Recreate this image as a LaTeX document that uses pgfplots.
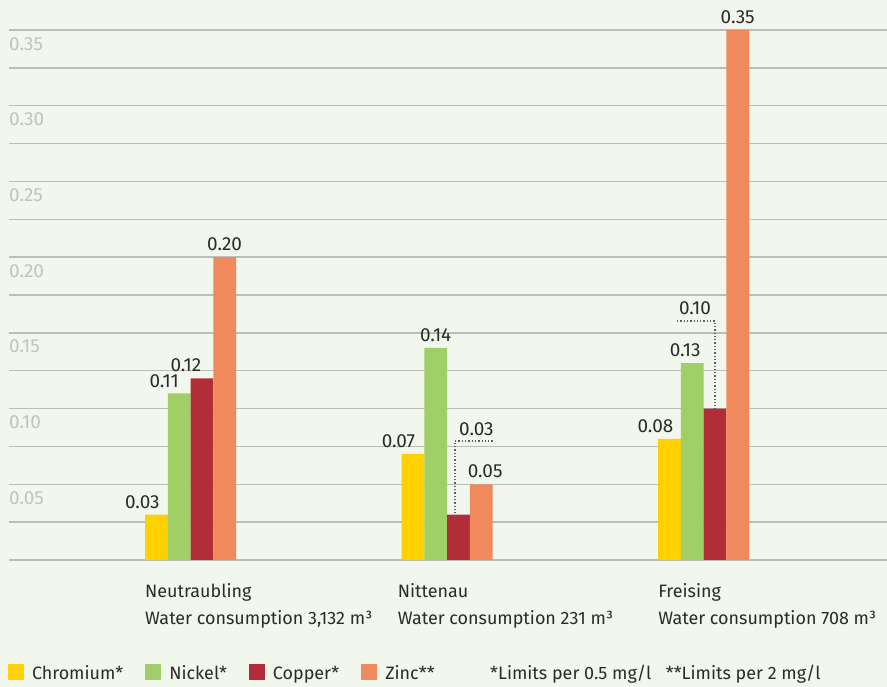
\documentclass[border=0pt]{standalone}
\usepackage{fontspec}
\setmainfont{Fira Sans}
\usepackage{pgfplots}
\pgfplotsset{compat=1.18}
\usepackage{pgfplotstable}
\definecolor{bg}{HTML}{F2F7ED}
\definecolor{gridc}{HTML}{BCBDB6}
\definecolor{ticklab}{HTML}{C2C3BD}
\definecolor{txt}{HTML}{2A2A2A}
\definecolor{cr}{HTML}{FFD100}
\definecolor{ni}{HTML}{A0CF67}
\definecolor{cu}{HTML}{B12E38}
\definecolor{zn}{HTML}{F08A5D}
\definecolor{lead}{HTML}{5A5F66}
\newcommand{\txtfont}{\fontsize{18}{27}\selectfont}
\newcommand{\numfont}{\fontsize{19}{22}\selectfont}

\pgfplotstableread{
x y dx dy
0 0.03 -14 6
1 0.07 -14.5 6
2 0.08 -14 6
}\chromium
\pgfplotstableread{
x y dx dy
0 0.11 -15 6
1 0.14 0 6
2 0.13 -7 6
}\nickel
\pgfplotstableread{
x y dx dy
0 0.12 -16 6
1 0.03 18 79
2 0.10 -20 94
}\copper
\pgfplotstableread{
x y dx dy
0 0.20 0 6
1 0.05 4 6
2 0.35 0 6
}\zinc

\pgfplotsset{
  valstyle/.style={
    draw=none, fill=#1,
    point meta=y,
    nodes near coords={\pgfmathprintnumber[fixed,fixed zerofill,precision=2]{\pgfplotspointmeta}},
    visualization depends on={\thisrow{dx}\as\dx},
    visualization depends on={\thisrow{dy}\as\dy},
    every node near coord/.append style={anchor=south, inner sep=0pt, xshift={\dx*1bp}, yshift={\dy*1bp},
      font=\numfont, text=txt},
  }
}

\begin{document}
\begin{tikzpicture}
\fill[bg] (0,0) rectangle (887bp,687bp);
\begin{axis}[
  at={(9bp,127bp)}, anchor=south west,
  scale only axis, width=878bp, height=530bp,
  xmin=-0.7076, xmax=2.715, ymin=0, ymax=0.35,
  ybar=0pt, bar width=22.75bp,
  axis line style={draw=none},
  major tick length=0pt, minor tick length=0pt,
  /pgf/number format/assume math mode=true,
  ytick={0.05,0.10,0.15,0.20,0.25,0.30,0.35},
  yticklabels={0.05,0.10,0.15,0.20,0.25,0.30,0.35},
  minor ytick={0,0.025,0.075,0.125,0.175,0.225,0.275,0.325},
  ymajorgrids, yminorgrids,
  major grid style={draw=gridc, line width=1.3bp},
  minor grid style={draw=gridc, line width=1.3bp},
  yticklabel style={anchor=north west, inner sep=0pt, yshift=-7bp,
    font=\numfont, text=ticklab},
  xtick={0,1,2},
  xticklabels={{Neutraubling\\Water consumption 3,132 m³},{\hspace*{-4bp}Nittenau\\\hspace*{-4bp}Water consumption 231 m³},{Freising\\Water consumption 708 m³}},
  xticklabel style={anchor=north west, align=left, inner sep=0pt, xshift=-45.5bp, yshift=-23.5bp,
    font=\txtfont, text=txt},
  legend style={at={(0,0)}, anchor=north west, xshift=-1bp, yshift=-104bp,
    draw=none, fill=none, inner sep=0pt, outer sep=0pt,
    font=\txtfont, text=txt,
    nodes={inner sep=0pt, text height=14bp, text depth=4bp},
    /tikz/every odd column/.append style={column sep=8bp},
    /tikz/every even column/.append style={column sep=22bp}},
  legend columns=4, legend cell align=left,
  legend image code/.code={\fill[#1] (0bp,-6bp) rectangle (16bp,10bp);},
]
\addplot[valstyle=cr] table[x=x,y=y] {\chromium};
\addlegendentry{Chromium*}
\addplot[valstyle=ni] table[x=x,y=y] {\nickel};
\addlegendentry{Nickel*}
\addplot[valstyle=cu] table[x=x,y=y] {\copper};
\addlegendentry{Copper*}
\addplot[valstyle=zn] table[x=x,y=y] {\zinc};
\addlegendentry{Zinc**}
\draw[lead, line width=1.3bp, dash pattern=on 1.3bp off 2bp]
  (axis cs:1.031,0.0264) -- (axis cs:1.031,0.0786) -- (axis cs:1.181,0.0786);
\draw[lead, line width=1.3bp, dash pattern=on 1.3bp off 2bp]
  (axis cs:1.8967,0.1578) -- (axis cs:2.0448,0.1578) -- (axis cs:2.0448,0.0991);
\end{axis}
\node[anchor=base west, inner sep=0pt, text=txt, font=\txtfont] at (490bp,8bp) {*Limits per 0.5 mg/l};
\node[anchor=base west, inner sep=0pt, text=txt, font=\txtfont] at (665.7bp,8bp) {**Limits per 2 mg/l};
\pgfresetboundingbox
\path (0,0) rectangle (887bp,687bp);
\end{tikzpicture}
\end{document}
